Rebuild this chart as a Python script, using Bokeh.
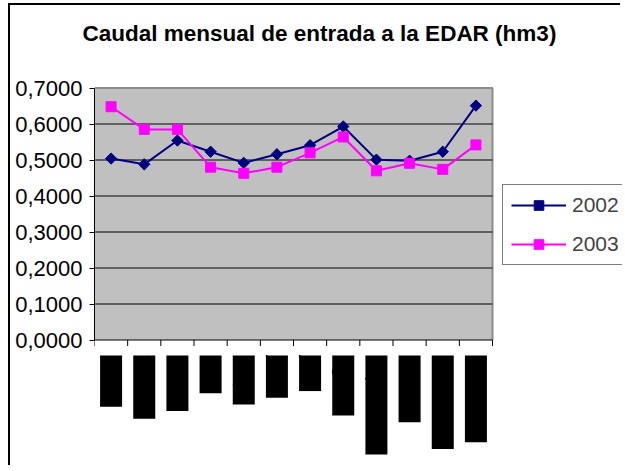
import numpy as np
from bokeh.plotting import figure
from bokeh.models import (ColumnDataSource, Range1d, FixedTicker, LabelSet,
                          Legend, LegendItem)
from bokeh.embed import file_html
from bokeh.resources import INLINE
from bokeh.core.properties import value

# ---------------- data ----------------
title_text = "Caudal mensual de entrada a la EDAR (hm3)"
months = ["enero", "febrero", "marzo", "abril", "mayo", "junio", "julio",
          "agosto", "septiembre", "octubre", "noviembre", "diciembre"]
caudal_2002 = [0.504, 0.488, 0.554, 0.523, 0.492, 0.516, 0.541, 0.593,
               0.501, 0.498, 0.523, 0.651]
caudal_2003 = [0.648, 0.585, 0.585, 0.480, 0.463, 0.480, 0.520, 0.564,
               0.470, 0.491, 0.474, 0.542]
series_names = ["2002", "2003"]
y_ticks = [0.0, 0.1, 0.2, 0.3, 0.4, 0.5, 0.6, 0.7]
y_tick_labels = ["0,0000", "0,1000", "0,2000", "0,3000", "0,4000",
                 "0,5000", "0,6000", "0,7000"]

# ---------------- layout constants (pixels) ----------------
FONT = "Liberation Sans"
NAVY = "#000080"
MAGENTA = "#FF00FF"
CANVAS_W, CANVAS_H = 612, 462
LEFT = 84            # width of the y-axis panel
TOP = 50             # height of the title panel
PLOT_W = 398         # pixel width of the grey plot area (12 categories)
PX_Y = 360           # pixels per unit of y
ZERO_FROM_TOP = 334.5
n = len(months)
PX_X = PLOT_W / n
frame_w = CANVAS_W - LEFT

x_centers = np.arange(n) + 0.5
src = ColumnDataSource(dict(x=x_centers, m=months,
                            y2002=caudal_2002, y2003=caudal_2003))

p = figure(width=CANVAS_W, height=CANVAS_H,
           x_range=Range1d(0, frame_w / PX_X),
           y_range=Range1d(-(CANVAS_H - ZERO_FROM_TOP) / PX_Y,
                           (ZERO_FROM_TOP - TOP) / PX_Y),
           output_backend="svg", toolbar_location=None,
           x_axis_location=None, title=title_text,
           min_border_left=LEFT, min_border_right=0,
           min_border_top=TOP, min_border_bottom=0,
           background_fill_color="white", border_fill_color="white",
           outline_line_color=None)
p.styles = {"border-left": "2px solid black", "border-top": "2px solid black",
            "margin-left": "8px", "margin-top": "3px"}
p.xgrid.visible = False
p.ygrid.visible = False

# title
p.title.align = "left"
p.title.offset = -12
p.title.standoff = 20
p.title.text_font = FONT
p.title.text_font_size = "22.5px"
p.title.text_font_style = "bold"
p.title.text_color = "black"

y_top = y_ticks[-1]

# grey plot area
p.quad(left=[0], right=[n], bottom=[y_ticks[0]], top=[y_top],
       fill_color="#C0C0C0", line_color=None)
# top and right edge of the plot area
p.line(x=[0, n, n], y=[y_top, y_top, y_ticks[0]], line_color="#8C8C8C", line_width=2)
# horizontal gridlines
p.segment(x0=[0] * (len(y_ticks) - 2), x1=[n] * (len(y_ticks) - 2),
          y0=y_ticks[1:-1], y1=y_ticks[1:-1], line_color="black", line_width=1)
# category axis: line + boundary ticks
tick_len = 6 / PX_Y
p.segment(x0=[0], x1=[n], y0=[0], y1=[0], line_color="black", line_width=1)
bounds_x = list(range(n + 1))
p.segment(x0=bounds_x, x1=bounds_x, y0=[0] * (n + 1), y1=[-tick_len] * (n + 1),
          line_color="black", line_width=1)

# y axis
p.yaxis.bounds = (y_ticks[0], y_top)
p.yaxis.ticker = FixedTicker(ticks=y_ticks)
p.yaxis.major_label_overrides = dict(zip(y_ticks, y_tick_labels))
p.yaxis.major_label_text_font = FONT
p.yaxis.major_label_text_font_size = "22px"
p.yaxis.major_label_text_color = "black"
p.yaxis.major_tick_out = 5
p.yaxis.major_tick_in = 0
p.yaxis.minor_tick_line_color = None
p.yaxis.axis_line_color = "black"
p.yaxis.major_tick_line_color = "black"
p.yaxis.major_label_standoff = 7

# series
l1 = p.line("x", "y2002", source=src, line_color=NAVY, line_width=2)
m1 = p.scatter("x", "y2002", source=src, marker="square", angle=np.pi / 4,
               size=8, fill_color=NAVY, line_color=NAVY)
l2 = p.line("x", "y2003", source=src, line_color=MAGENTA, line_width=2)
m2 = p.scatter("x", "y2003", source=src, marker="square", size=10,
               fill_color=MAGENTA, line_color=MAGENTA)

# month labels (rendered as black blocks like the original)
labels = LabelSet(x="x", y=-15.5 / PX_Y, text="m", source=src, angle=-np.pi / 2,
                  text_align="left", text_baseline="middle",
                  text_font=value(FONT), text_font_size=value("20px"),
                  text_color="black", background_fill_color="black")
p.add_layout(labels)

legend = Legend(items=[LegendItem(label=series_names[0], renderers=[l1, m1]),
                       LegendItem(label=series_names[1], renderers=[l2, m2])],
                location=(408, CANVAS_H - 260), orientation="vertical",
                border_line_color="black", border_line_width=1,
                background_fill_color="white", background_fill_alpha=1,
                label_text_font=FONT, label_text_font_size="21px",
                glyph_width=55, glyph_height=24, label_standoff=6,
                spacing=15, padding=8, margin=0,
                label_width=150, label_height=24)
p.add_layout(legend)

open("out.html", "w").write(file_html(p, INLINE, title="Caudal mensual"))
